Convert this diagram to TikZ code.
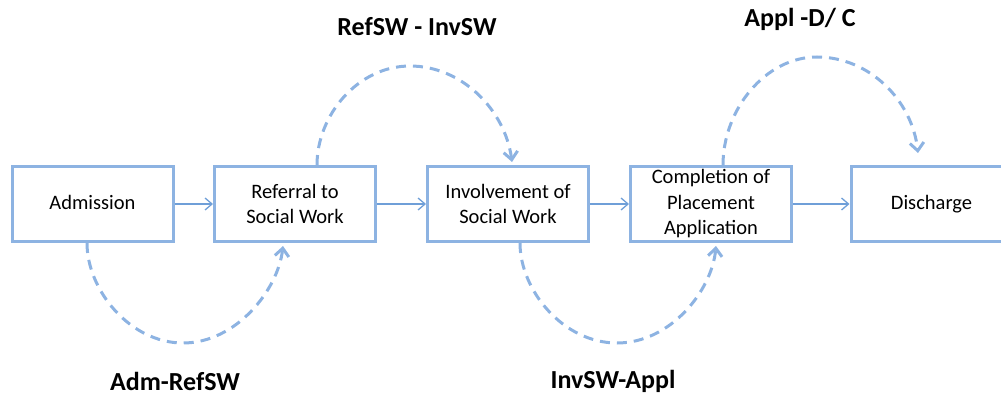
\documentclass[tikz,border=0pt]{standalone}
\usepackage{fontspec}
\setmainfont{Carlito}
\usetikzlibrary{arrows.meta}
\definecolor{boxblue}{HTML}{8DB3E2}
\definecolor{lineblue}{HTML}{6F9FD8}
\tikzset{
  stagebox/.style={draw=boxblue,line width=3pt,fill=white,minimum width=161pt,minimum height=75pt,
    align=center,inner sep=0pt,font=\fontsize{20.5}{25.5}\selectfont},
  flow/.style={draw=lineblue,line width=1.3pt,-{Straight Barb[length=7pt,width=12pt,line width=1.3pt]}},
  loop/.style={draw=boxblue,line width=3pt,dash pattern=on 10pt off 7pt,
    -{Straight Barb[length=8pt,width=14pt,line width=3pt]}},
  phase/.style={font=\fontsize{26}{30}\selectfont\bfseries,inner sep=0pt}
}
\begin{document}
\begin{tikzpicture}[x=1pt,y=1pt]
\useasboundingbox (0,0) rectangle (1001,-396);
\node[stagebox] (adm) at (92.5,-204) {\strut Admission};
\node[stagebox] (ref) at (295,-204) {Referral to\\Social Work};
\node[stagebox] (inv) at (508,-204) {Involvement of\\Social Work};
\node[stagebox] (comp) at (711,-204) {Completion of\\Placement\\Application};
\node[stagebox] (dis) at (931.5,-204) {\strut Discharge};
\draw[flow] (adm.east) -- (ref.west);
\draw[flow] (ref.east) -- (inv.west);
\draw[flow] (inv.east) -- (comp.west);
\draw[flow] (comp.east) -- (dis.west);
% dashed loops
\coordinate (a1) at (87,-243);
\coordinate (a2) at (283,-246);
\draw[loop] (a1) .. controls (87,-290) and (130,-343) .. (183,-343)
  .. controls (236,-343) and (278,-290) .. (a2);
\coordinate (b1) at (317,-165);
\coordinate (b2) at (512,-162);
\draw[loop] (b1) .. controls (317,-115) and (358,-66) .. (410,-66)
  .. controls (462,-66) and (505,-110) .. (b2);
\coordinate (c1) at (520,-243);
\coordinate (c2) at (716,-246);
\draw[loop] (c1) .. controls (520,-290) and (563,-343) .. (617,-343)
  .. controls (671,-343) and (712,-290) .. (c2);
\coordinate (d1) at (723,-165);
\coordinate (d2) at (918,-153);
\draw[loop] (d1) .. controls (723,-110) and (765,-57) .. (817,-57)
  .. controls (869,-57) and (912,-100) .. (d2);
\node[phase] (l1) at (175,-381) {Adm-RefSW};
\node[phase] (l2) at (417,-27) {RefSW - InvSW};
\node[phase] (l3) at (613,-381) {InvSW-Appl};
\node[phase] (l4) at (800,-19) {Appl -D/ C};
\end{tikzpicture}
\end{document}
